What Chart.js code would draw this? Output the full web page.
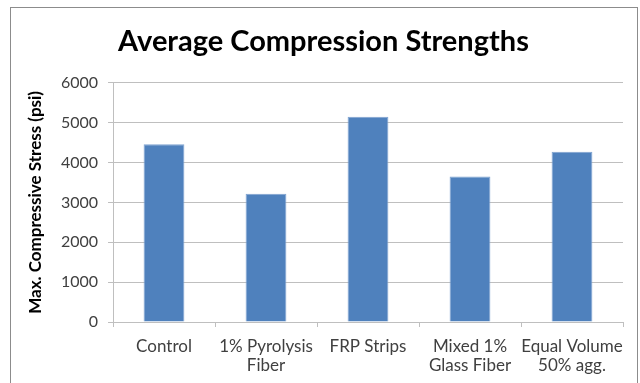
<!DOCTYPE html>
<html><head><meta charset="utf-8">
<script src="https://cdn.jsdelivr.net/npm/chart.js@4"></script>
<style>html,body{margin:0;padding:0;background:#fff;}#wrap{position:absolute;left:0;top:0;width:640px;height:383px;}</style>
</head><body><div id="wrap"><canvas id="c" width="640" height="383"></canvas></div>
<script>
const categories = [["Control"], ["1% Pyrolysis", "Fiber"], ["FRP Strips"], ["Mixed 1%", "Glass Fiber"], ["Equal Volume", "50% agg."]];
const strengths = [4460, 3220, 5150, 3650, 4270];
const yTicks = [0, 1000, 2000, 3000, 4000, 5000, 6000];

const FONT = "Lato, 'Open Sans', sans-serif";
const borderPlugin = {
  id: 'frame',
  beforeDraw(chart) {
    const ctx = chart.ctx;
    ctx.save();
    ctx.strokeStyle = '#8c8c8c';
    ctx.lineWidth = 1;
    ctx.strokeRect(10.5, 7.5, 627, 420);
    ctx.restore();
  }
};

new Chart(document.getElementById('c'), {
  type: 'bar',
  data: {
    labels: categories,
    datasets: [{
      data: strengths,
      backgroundColor: '#4F81BD',
      borderColor: '#7fa3d1',
      borderWidth: 1,
      barPercentage: 0.8,
      categoryPercentage: 0.5
    }]
  },
  plugins: [borderPlugin],
  options: {
    responsive: false,
    animation: false,
    layout: { padding: { left: 24, right: 17, top: 0, bottom: 0 } },
    plugins: {
      legend: { display: false },
      tooltip: { enabled: false },
      title: {
        display: true,
        text: 'Average Compression Strengths',
        color: '#000',
        font: { family: FONT, size: 29, weight: 'bold' },
        padding: { top: 24, bottom: 24 }
      }
    },
    scales: {
      x: {
        grid: { offset: true, drawOnChartArea: false, drawTicks: true, tickLength: 5, color: '#bfbfbf' },
        border: { color: '#bfbfbf' },
        ticks: { color: '#404040', font: { family: FONT, size: 17, lineHeight: 1.1 }, maxRotation: 0, autoSkip: false, padding: 10 },
        afterFit(s) { s.height = 61; }
      },
      y: {
        min: 0, max: 6000,
        afterBuildTicks(s) { s.ticks = yTicks.map(v => ({ value: v })); },
        grid: { color: '#bfbfbf', tickLength: 5 },
        border: { color: '#bfbfbf' },
        ticks: { color: '#404040', font: { family: FONT, size: 16 }, padding: 10, callback: v => String(v) },
        title: {
          display: true,
          text: 'Max. Compressive Stress (psi)',
          color: '#000',
          font: { family: FONT, size: 17, weight: 'bold' },
          padding: { top: 1, bottom: 4 }
        },
        afterFit(s) { s.width = 89; }
      }
    }
  }
});
</script></body></html>
